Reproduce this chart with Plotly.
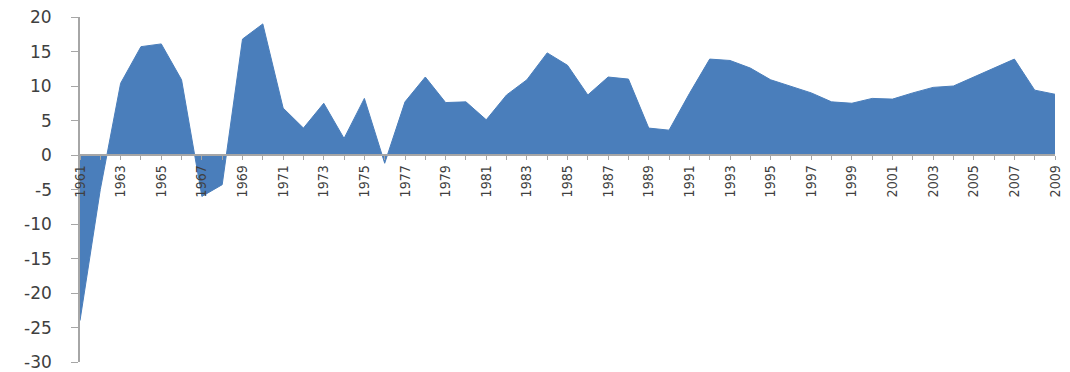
import plotly.graph_objects as go

years = list(range(1961, 2010))
values = [-24.0, -5.0, 10.4, 15.7, 16.1, 10.9, -6.0, -4.3, 16.8, 19.0,
          6.8, 3.9, 7.5, 2.4, 8.2, -1.2, 7.7, 11.3, 7.6, 7.7,
          5.1, 8.7, 10.9, 14.8, 13.0, 8.7, 11.3, 11.0, 3.9, 3.6,
          8.9, 13.9, 13.7, 12.6, 10.9, 10.0, 9.0, 7.7, 7.5, 8.2,
          8.1, 9.0, 9.8, 10.0, 11.3, 12.6, 13.9, 9.4, 8.8]
y_ticks = [-30, -25, -20, -15, -10, -5, 0, 5, 10, 15, 20]
y_tick_labels = ["-30", "-25", "-20", "-15", "-10", "-5", "0", "5", "10", "15", "20"]
x_ticks = list(range(1961, 2010, 2))
x_tick_labels = [str(y) for y in x_ticks]

fill_color = "#4A7EBB"
axis_color = "#A6A6A6"
text_color = "#404040"

fig = go.Figure()
fig.add_trace(go.Scatter(
    x=years, y=values, mode="lines", fill="tozeroy",
    line=dict(color=fill_color, width=1), fillcolor=fill_color,
    hoverinfo="x+y", showlegend=False,
))

ymin, ymax = -30, 20
zero_pos = (0 - ymin) / (ymax - ymin)
fig.update_layout(
    width=1070, height=372,
    margin=dict(l=80, r=15, t=17, b=10),
    paper_bgcolor="white", plot_bgcolor="white",
    xaxis=dict(
        range=[1961, 2009], anchor="free", position=zero_pos,
        tickvals=x_ticks, ticktext=x_tick_labels, tickangle=-90,
        ticks="outside", ticklen=4, tickcolor=axis_color,
        minor=dict(dtick=1, tick0=1961, ticks="outside", ticklen=4, tickcolor=axis_color),
        showline=True, linecolor=axis_color, linewidth=1.5,
        showgrid=False, zeroline=False, automargin=False,
        tickfont=dict(family="DejaVu Sans Condensed, Liberation Sans Narrow, DejaVu Sans", size=14, color=text_color),
    ),
    yaxis=dict(
        range=[ymin, ymax], tickvals=y_ticks, ticks="outside", ticklen=7,
        tickcolor=axis_color, showticklabels=False,
        showline=True, linecolor=axis_color, linewidth=1.5,
        showgrid=False, zeroline=False, automargin=False,
    ),
)

# y tick labels placed through the y scale, offset left of the axis line
for val, lab in zip(y_ticks, y_tick_labels):
    fig.add_annotation(
        x=0, xref="paper", y=val, yref="y", text=lab, showarrow=False,
        xanchor="right", yanchor="middle", xshift=-26,
        font=dict(family="DejaVu Sans", size=17, color=text_color),
    )

fig.write_html("out.html")
